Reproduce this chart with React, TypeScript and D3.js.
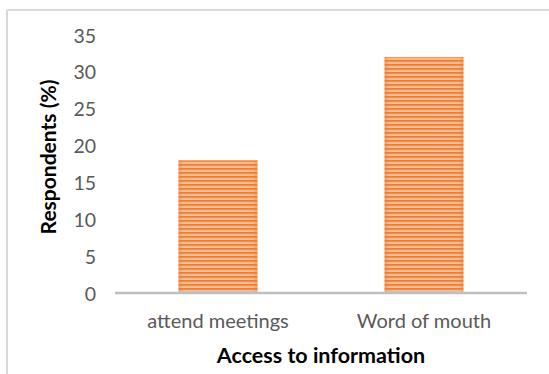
import React from "react";
import * as d3 from "d3";

const categories: string[] = ["attend meetings", "Word of mouth"];
const values: number[] = [18, 32];
const yTicks: number[] = [0, 5, 10, 15, 20, 25, 30, 35];
const yTitle = "Respondents (%)";
const xTitle = "Access to information";

const W = 549;
const H = 374;
const plot = { left: 115, right: 527, top: 35, bottom: 293 };
const FONT = "Lato, 'Open Sans', sans-serif";

export default function App() {
  const x = d3
    .scaleBand<string>()
    .domain(categories)
    .range([plot.left, plot.right])
    .paddingInner(0.617)
    .paddingOuter(0.3085);
  const y = d3.scaleLinear().domain([0, 35]).range([plot.bottom, plot.top]);

  return (
    <svg
      width={W}
      height={H}
      style={{ position: "absolute", left: 0, top: 0, background: "#fff" }}
    >
      <defs>
        <pattern id="stripes" patternUnits="userSpaceOnUse" width={8} height={4}>
          <rect width={8} height={4} fill="#F9CBAA" />
          <rect y={0} width={8} height={1.8} fill="#ED7D31" />
          <rect y={1.8} width={8} height={0.6} fill="#F29A5E" />
          <rect y={3.5} width={8} height={0.5} fill="#F4AD7C" />
        </pattern>
        <linearGradient id="edge" x1="0" x2="1" y1="0" y2="0">
          <stop offset="0" stopColor="#ED7D31" stopOpacity={0.45} />
          <stop offset="0.06" stopColor="#ED7D31" stopOpacity={0} />
          <stop offset="0.94" stopColor="#ED7D31" stopOpacity={0} />
          <stop offset="1" stopColor="#ED7D31" stopOpacity={0.45} />
        </linearGradient>
      </defs>

      {/* chart frame */}
      <line x1={7} y1={10} x2={W} y2={10} stroke="#d9d9d9" strokeWidth={2} />
      <line x1={7} y1={10} x2={7} y2={H} stroke="#d9d9d9" strokeWidth={2} />

      {/* y tick labels */}
      {yTicks.map((t) => (
        <text
          key={t}
          x={96}
          y={y(t)}
          textAnchor="end"
          dominantBaseline="central"
          fontFamily={FONT}
          fontSize={19.5}
          fill="#595959"
        >
          {t}
        </text>
      ))}

      {/* bars */}
      {categories.map((c, i) => {
        const bx = x(c)!;
        const by = y(values[i]);
        const bh = y(0) - by;
        return (
          <g key={c}>
            <rect x={bx} y={by} width={x.bandwidth()} height={bh} fill="url(#stripes)" />
            <rect x={bx} y={by} width={x.bandwidth()} height={bh} fill="url(#edge)" />
          </g>
        );
      })}

      {/* x axis line */}
      <line
        x1={plot.left}
        x2={plot.right}
        y1={y(0)}
        y2={y(0)}
        stroke="#bfbfbf"
        strokeWidth={2.5}
      />

      {/* category labels */}
      {categories.map((c) => (
        <text
          key={c}
          x={x(c)! + x.bandwidth() / 2}
          y={320}
          textAnchor="middle"
          dominantBaseline="central"
          fontFamily={FONT}
          fontSize={20}
          fill="#595959"
        >
          {c}
        </text>
      ))}

      {/* axis titles */}
      <text
        x={321}
        y={355}
        textAnchor="middle"
        dominantBaseline="central"
        fontFamily={FONT}
        fontSize={21.5}
        fontWeight="bold"
        fill="#000"
      >
        {xTitle}
      </text>
      <text
        transform={`translate(47,157) rotate(-90)`}
        textAnchor="middle"
        dominantBaseline="central"
        fontFamily={FONT}
        fontSize={21}
        fontWeight="bold"
        fill="#000"
      >
        {yTitle}
      </text>
    </svg>
  );
}
